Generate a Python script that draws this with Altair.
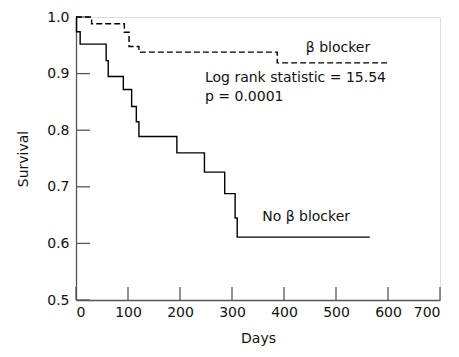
import altair as alt
import pandas as pd

# Beta blocker (dashed) Kaplan-Meier steps
bb_days = [0, 30, 93, 102, 121, 387, 600]
bb_surv = [1.0, 0.988, 0.973, 0.948, 0.938, 0.919, 0.919]

# No beta blocker (solid) Kaplan-Meier steps
nb_days = [0, 1, 8, 58, 62, 91, 107, 116, 121, 194, 247, 286, 306, 310, 565]
nb_surv = [1.0, 0.974, 0.952, 0.923, 0.895, 0.872, 0.842, 0.815, 0.789,
           0.760, 0.726, 0.688, 0.645, 0.611, 0.611]

x_ticks = [0, 100, 200, 300, 400, 500, 600, 700]
y_ticks = [0.5, 0.6, 0.7, 0.8, 0.9, 1.0]

FONT = "DejaVu Sans"
FS = 14
AX = "#555555"

bb = pd.DataFrame({"day": bb_days, "surv": bb_surv})
nb = pd.DataFrame({"day": nb_days, "surv": nb_surv})

xs = alt.Scale(domain=[0, 700], nice=False, zero=False)
ys = alt.Scale(domain=[0.5, 1.0], nice=False, zero=False)

W, H = 364, 283

base_x = alt.X("day:Q", scale=xs,
               axis=alt.Axis(values=x_ticks, ticks=False, grid=False,
                             domainColor=AX, domainWidth=1.3,
                             labelFont=FONT, labelFontSize=FS, labelColor="#111",
                             labelPadding=5, title="Days", titleFont=FONT,
                             titleFontSize=FS, titleFontWeight="normal",
                             titleColor="#111", titlePadding=12))
base_y = alt.Y("surv:Q", scale=ys,
               axis=alt.Axis(values=y_ticks, ticks=False, grid=False, format=".1f",
                             domainColor=AX, domainWidth=1.3,
                             labelFont=FONT, labelFontSize=FS, labelColor="#111",
                             labelPadding=7, title="Survival", titleFont=FONT,
                             titleFontSize=FS, titleFontWeight="normal",
                             titleColor="#111", titlePadding=16))

nb_line = alt.Chart(nb).mark_line(interpolate="step-after", color="black",
                                  strokeWidth=1.4).encode(x=base_x, y=base_y)
bb_line = alt.Chart(bb).mark_line(interpolate="step-after", color="black",
                                  strokeWidth=1.4, strokeDash=[6, 3]).encode(
    x=alt.X("day:Q", scale=xs), y=alt.Y("surv:Q", scale=ys))

xt = alt.Chart(pd.DataFrame({"t": x_ticks})).mark_rule(color=AX, strokeWidth=1.3).encode(
    x=alt.X("t:Q", scale=xs), y=alt.value(H), y2=alt.value(H - 13))
yt = alt.Chart(pd.DataFrame({"t": y_ticks})).mark_rule(color=AX, strokeWidth=1.3).encode(
    y=alt.Y("t:Q", scale=ys), x=alt.value(0), x2=alt.value(14))

ann = pd.DataFrame({
    "day": [442, 248, 248, 358],
    "surv": [0.946, 0.893, 0.858, 0.646],
    "label": ["β blocker", "Log rank statistic = 15.54", "p = 0.0001", "No β blocker"],
})
txt = alt.Chart(ann).mark_text(align="left", baseline="middle", font=FONT,
                               fontSize=FS, color="#111").encode(
    x=alt.X("day:Q", scale=xs), y=alt.Y("surv:Q", scale=ys), text="label:N")

chart = alt.layer(xt, yt, nb_line, bb_line, txt).properties(
    width=W, height=H,
    autosize=alt.AutoSizeParams(type="none"),
    padding={"left": 68, "top": 9, "right": 10, "bottom": 48},
).configure_view(stroke=None).configure(background="white")

chart.save("out.html", embed_options={"renderer": "svg", "actions": False})
